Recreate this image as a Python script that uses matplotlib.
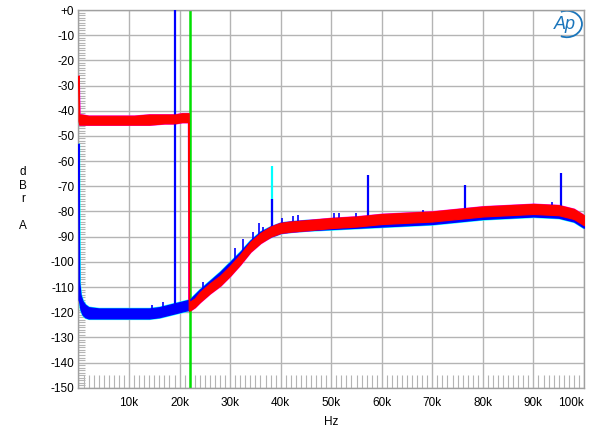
#!/usr/bin/env python3

"""Recreate the AP analyzer FFT plot (dBr A vs Hz)."""

import matplotlib
matplotlib.use('Agg')
import matplotlib.pyplot as plt
from matplotlib.patches import Arc
import numpy as np

# frequencies are in kHz
FREQ_BLUE = [0, 0.15, 0.4, 0.8, 1.3, 2, 4, 6, 8, 10, 12, 14, 16, 18, 20, 21, 22, 24, 26, 28,
             30, 32, 34, 36, 38, 40, 42, 45, 50, 55, 60, 65, 70, 75, 80, 85, 90, 95, 98, 100]
BLUE_HI = [-53, -108, -113, -115.5, -117, -118, -118.5, -118.5, -118.5, -118.5, -118.5, -118.5,
           -118, -117, -116, -115.5, -115, -111, -107.5, -104, -100, -96, -91.5, -88, -86,
           -84.5, -84, -83.5, -83, -82.5, -82, -81.5, -81, -80, -79, -78.5, -78, -78.5, -80, -82.5]
BLUE_LO = [-115, -116, -119, -121, -122, -122.5, -122.5, -122.5, -122.5, -122.5, -122.5, -122.5,
           -122, -121, -120, -119.5, -119, -115, -111.5, -108, -104, -100, -95.5, -92, -90,
           -88.5, -88, -87.5, -87, -86.5, -86, -85.5, -85, -84, -83, -82.5, -82, -82.5, -84, -86.5]

FREQ_RED = [0, 0.15, 0.5, 2, 5, 8, 11, 14, 17, 19, 20.5, 21.7, 21.8, 21.9, 23, 24, 26, 28, 30,
            32, 34, 36, 38, 40, 42, 45, 50, 55, 60, 65, 70, 75, 80, 85, 90, 95, 98, 100]
RED_HI = [-26, -41.5, -41.5, -42, -42, -42, -42, -41.5, -41.5, -41.5, -41, -41, -41, -116,
          -114.5, -112, -108.5, -105.5, -101.5, -97, -92, -88.5, -86, -84.5, -84, -83.5, -82.6,
          -82, -81, -80.5, -80, -79, -78, -77.5, -77, -77.5, -79, -81.5]
RED_LO = [-44, -45.5, -45.5, -45.5, -45.5, -45.5, -45.5, -45.5, -45, -45, -44.5, -44.5, -119,
          -119.5, -118, -116, -112.5, -109.5, -105.5, -101, -96, -92.5, -90, -88.5, -88, -87.5,
          -86.6, -86, -85, -84.5, -84, -83, -82, -81.5, -81, -81.5, -83, -85.5]

# tone (19.1 kHz) and its harmonics
HARM_FREQ = [19.1, 38.2, 57.3, 76.4, 95.5]
HARM_TOP = [5, -75, -65.5, -69.5, -64.6]
HARM_BASE = [-118, -87, -84, -81, -79]
CYAN_HARM_FREQ = [38.2]
CYAN_HARM_TOP = [-62]
CYAN_HARM_BASE = [-87]

# small spurs sticking out of the blue noise
SPUR_FREQ = [14.5, 16.8, 21.0, 24.6, 31.0, 32.5, 34.5, 35.8, 36.6, 40.2, 42.4, 43.4, 50.6,
             51.5, 54.9, 68.2, 93.6]
SPUR_TOP = [-117, -115.8, -116, -108, -94.5, -91, -88, -84.5, -86, -82.5, -82, -81.4, -80.5,
            -80.5, -80.5, -79.4, -76.3]
SPUR_BASE = [-119, -119, -118, -113, -102, -98, -93, -91, -90, -87, -86, -86, -85, -85,
             -84.5, -83, -80.5]

FILTER_FREQ = 22.05

Y_TICKS = list(range(-150, 1, 10))
X_TICKS = list(range(0, 101, 10))

GRID_COLOR = '#b4b4b4'


def fmt_y(v):
    """label for y axis"""
    return '+0' if v == 0 else f'{v}'


def fmt_x(v):
    """label for x axis"""
    return '' if v == 0 else f'{v}k'


def main():
    plt.rcParams['font.family'] = ['Liberation Sans', 'DejaVu Sans']
    plt.rcParams['font.size'] = 8.5

    fig = plt.figure(figsize=(6.0, 4.32), dpi=100)
    ax = fig.add_axes([0.1308, 0.1025, 0.8425, 0.8743])

    # cyan / magenta underneath, slightly wider rims
    ax.fill_between(FREQ_BLUE, BLUE_LO, BLUE_HI, color='#00ffff', lw=1.6,
                    edgecolor='#00ffff', zorder=2)
    ax.fill_between(FREQ_RED, RED_LO, RED_HI, color='#ff00ff', lw=1.3,
                    edgecolor='#ff00ff', zorder=2.1)
    ax.vlines(CYAN_HARM_FREQ, CYAN_HARM_BASE, CYAN_HARM_TOP, color='#00ffff', lw=1.6, zorder=2.2)

    ax.axvline(FILTER_FREQ, color='#00e000', lw=1.8, zorder=2.5)

    # blue
    ax.fill_between(FREQ_BLUE, BLUE_LO, BLUE_HI, color='#0000ff', lw=0.8,
                    edgecolor='#0000ff', zorder=3)
    ax.vlines(HARM_FREQ, HARM_BASE, HARM_TOP, color='#0000ff', lw=1.6, zorder=3.1)
    ax.vlines(SPUR_FREQ, SPUR_BASE, SPUR_TOP, color='#0000ff', lw=1.2, zorder=3.1)

    # red on top
    ax.fill_between(FREQ_RED, RED_LO, RED_HI, color='#ff0000', lw=0.8,
                    edgecolor='#ff0000', zorder=4)

    ax.set_xlim(0, 100)
    ax.set_ylim(-150, 0)

    ax.set_yticks(Y_TICKS, [fmt_y(v) for v in Y_TICKS])
    ax.set_xticks(X_TICKS, [fmt_x(v) for v in X_TICKS])
    ax.get_xticklabels()[-1].set_horizontalalignment('right')
    ax.set_yticks(np.arange(-150, 1, 1), minor=True)
    ax.set_xticks(np.arange(0, 101, 1), minor=True)

    ax.tick_params(axis='both', which='major', length=0)
    ax.tick_params(axis='y', which='major', pad=3)
    ax.tick_params(axis='x', which='major', pad=7)
    ax.tick_params(axis='y', which='minor', direction='in', length=5, width=0.8,
                   color=GRID_COLOR)
    ax.tick_params(axis='x', which='minor', direction='in', length=9.5, width=0.8,
                   color=GRID_COLOR)

    ax.grid(which='major', color=GRID_COLOR, linewidth=1.0, zorder=0)
    ax.set_axisbelow(True)
    for sp in ax.spines.values():
        sp.set_color('#a0a0a0')
        sp.set_linewidth(1.0)

    ax.set_xlabel('Hz', labelpad=5)
    fig.text(0.038, 0.539, 'd\nB\nr\n\nA', ha='center', va='center', fontsize=8.5,
             linespacing=1.15)

    # Ap logo
    ax.text(0.962, 0.962, 'Ap', transform=ax.transAxes, ha='center', va='center',
            fontsize=13, style='italic', color='#1a75bb')
    ax.add_patch(Arc((0.966, 0.963), 0.06, 0.07, theta1=-110, theta2=110,
                     transform=ax.transAxes, color='#1a75bb', lw=1.3))

    plt.savefig('out.png', dpi=100)


if __name__ == "__main__":
    main()
